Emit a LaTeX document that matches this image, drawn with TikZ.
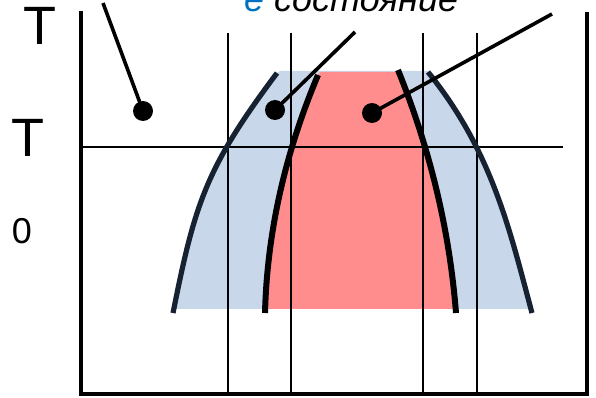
\documentclass[tikz,border=0pt]{standalone}
\usepackage{fontspec}
\setmainfont{Liberation Sans}
\definecolor{bluefill}{RGB}{201,215,234}
\definecolor{redfill}{RGB}{255,141,141}
\definecolor{navy}{RGB}{22,34,50}
\definecolor{letterblue}{RGB}{0,112,192}
\tikzset{
  axisline/.style={line width=4.3pt},
  gridline/.style={line width=1.8pt},
  outercurve/.style={line width=5.2pt, navy},
  innercurve/.style={line width=6pt, black},
  leader/.style={line width=3.6pt},
  dotmark/.style={circle, fill=black, inner sep=0pt, minimum size=20pt},
  bigT/.style={font=\fontsize{54}{54}\selectfont, inner sep=0pt, anchor=base},
}
\begin{document}
\begin{tikzpicture}[x=1pt,y=-1pt]
\useasboundingbox (0,0) rectangle (596,398);
% fills
\begin{scope}
\clip (0,0) rectangle (596,308);
\fill[bluefill] (173,313) .. controls (195,203) and (205.75,168) .. (277,73) -- (280,71) -- (428,71) -- (428,72)
  .. controls (492.8,152) and (510.4,233) .. (532,313) -- cycle;
\fill[redfill] (265,313) .. controls (267.1,233) and (284.7,154) .. (318,75) -- (320,72) -- (400,72) -- (398,70)
  .. controls (430.6,150.7) and (449.6,231.3) .. (455,312) -- cycle;
\end{scope}
% grid lines
\coordinate (g1t) at (228,33); \coordinate (g1b) at (228,394);
\coordinate (g2t) at (291,33); \coordinate (g2b) at (291,394);
\coordinate (g3t) at (423,33); \coordinate (g3b) at (423,394);
\coordinate (g4t) at (477,33); \coordinate (g4b) at (477,394);
\coordinate (hl) at (81,147); \coordinate (hr) at (563,147);
\draw[gridline] (g1t) -- (g1b);
\draw[gridline] (g2t) -- (g2b);
\draw[gridline] (g3t) -- (g3b);
\draw[gridline] (g4t) -- (g4b);
\draw[gridline] (hl) -- (hr);
% curves
\draw[outercurve] (173,313) .. controls (195,203) and (205.75,168) .. (277,73);
\draw[outercurve] (428,72) .. controls (492.8,152) and (510.4,233) .. (532,313);
\draw[innercurve] (265,313) .. controls (267.1,233) and (284.7,154) .. (318,75);
\draw[innercurve] (398,70) .. controls (430.6,150.7) and (449.6,231.3) .. (456,313);
% axes
\coordinate (al) at (81,11); \coordinate (bl) at (81,394);
\coordinate (br) at (587,394); \coordinate (ar) at (587,12);
\draw[axisline] (al) -- (bl) -- (br) -- (ar);
% labels
\node[bigT] (t1) at (40,45) {T};
\node[bigT] (t2) at (28,157) {T};
\node[font=\fontsize{36}{36}\selectfont, inner sep=0pt, anchor=base] (zero) at (22,243) {0};
\node[font=\fontsize{36}{36}\selectfont\itshape, inner sep=0pt, anchor=base west] (state) at (244,12) {\textcolor{letterblue}{е} состояние};
% dots and leaders
\node[dotmark] (d1) at (143,111) {};
\node[dotmark] (d2) at (275,110) {};
\node[dotmark] (d3) at (372,113) {};
\coordinate (e1) at (103,3);
\coordinate (e2) at (355,32);
\coordinate (e3) at (552,14);
\draw[leader] (e1) -- (d1.center);
\draw[leader] (e2) -- (d2.center);
\draw[leader] (e3) -- (d3.center);
\end{tikzpicture}
\end{document}
